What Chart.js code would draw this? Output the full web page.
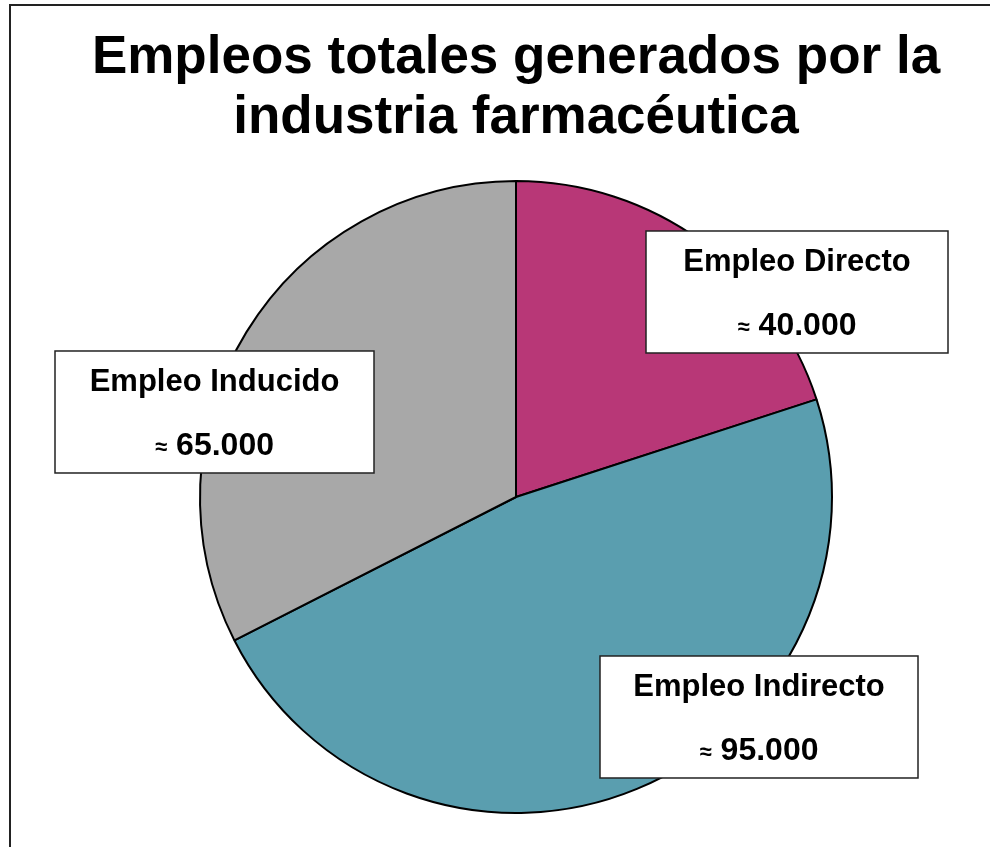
<!DOCTYPE html>
<html>
<head>
<meta charset="utf-8">
<script src="https://cdn.jsdelivr.net/npm/chart.js@4"></script>
<style>
  html, body { margin: 0; padding: 0; background: #fff; }
  #wrap { width: 990px; height: 847px; position: relative; }
</style>
</head>
<body>
<div id="wrap"><canvas id="canvas" width="990" height="847"></canvas></div>
<script>
var CATEGORIAS = ['Empleo Directo', 'Empleo Indirecto', 'Empleo Inducido'];
var EMPLEOS = [40000, 95000, 65000];
var COLORES = ['#B83777', '#5A9EAF', '#A8A8A8'];
var TITULO = ['Empleos totales generados por la', 'industria farmacéutica'];

// cajas de etiqueta, relativas al centro de la tarta
var CAJAS = [
	{dx: 130, dy: -266, w: 302, h: 122},
	{dx: 84, dy: 159, w: 318, h: 122},
	{dx: -461, dy: -146, w: 319, h: 122}
];

function miles(v) {
	return String(v).replace(/\B(?=(\d{3})+(?!\d))/g, '.');
}

var marco = {
	id: 'marco',
	beforeDraw: function(chart) {
		var ctx = chart.ctx;
		ctx.save();
		ctx.strokeStyle = '#222';
		ctx.lineWidth = 2;
		ctx.beginPath();
		ctx.moveTo(10, chart.height + 5);
		ctx.lineTo(10, 5);
		ctx.lineTo(chart.width + 5, 5);
		ctx.stroke();
		ctx.restore();
	}
};

var etiquetas = {
	id: 'etiquetas',
	afterDatasetsDraw: function(chart) {
		var ctx = chart.ctx;
		var arcs = chart.getDatasetMeta(0).data;
		var cx = arcs[0].x, cy = arcs[0].y;
		ctx.save();
		arcs.forEach(function(arc, i) {
			var c = CAJAS[i];
			var x = cx + c.dx, y = cy + c.dy;
			ctx.fillStyle = '#fff';
			ctx.fillRect(x, y, c.w, c.h);
			ctx.strokeStyle = '#222';
			ctx.lineWidth = 1.5;
			ctx.strokeRect(x, y, c.w, c.h);

			var mx = x + c.w / 2;
			ctx.fillStyle = '#000';
			ctx.textBaseline = 'alphabetic';
			ctx.textAlign = 'center';
			ctx.font = 'bold 31px "Liberation Sans", Arial, sans-serif';
			ctx.fillText(chart.data.labels[i], mx, y + 40);

			// ≈ más pequeño + número en negrita
			var num = miles(chart.data.datasets[0].data[i]);
			ctx.font = 'bold 32px "Liberation Sans", Arial, sans-serif';
			var wNum = ctx.measureText(num).width;
			ctx.font = 'bold 22px "Liberation Sans", Arial, sans-serif';
			var wAprox = ctx.measureText('≈').width;
			var gap = 9;
			var total = wAprox + gap + wNum;
			var x0 = mx - total / 2;
			ctx.textAlign = 'left';
			ctx.fillText('≈', x0, y + 103);
			ctx.font = 'bold 32px "Liberation Sans", Arial, sans-serif';
			ctx.fillText(num, x0 + wAprox + gap, y + 104);
		});
		ctx.restore();
	}
};

window.onload = function() {
	var ctx = document.getElementById('canvas').getContext('2d');
	window.myPie = new Chart(ctx, {
		type: 'pie',
		data: {
			labels: CATEGORIAS,
			datasets: [{
				data: EMPLEOS,
				backgroundColor: COLORES,
				borderColor: '#000',
				borderWidth: 2,
				radius: 316
			}]
		},
		options: {
			responsive: false,
			animation: false,
			layout: {
				padding: {left: 42, right: 0, top: 0, bottom: 13}
			},
			plugins: {
				legend: {display: false},
				tooltip: {enabled: false},
				title: {
					display: true,
					text: TITULO,
					color: '#000',
					font: {family: '"Liberation Sans", Arial, sans-serif', size: 53, weight: 'bold', lineHeight: 1.132},
					padding: {top: 28.6, bottom: 11.4}
				}
			}
		},
		plugins: [marco, etiquetas]
	});
};
</script>
</body>
</html>
